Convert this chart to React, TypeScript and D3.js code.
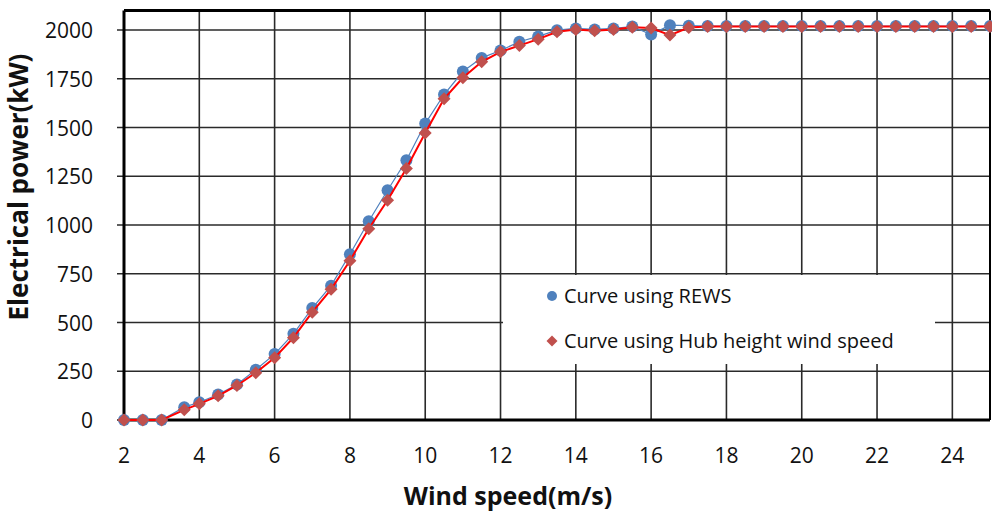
import React from "react";
import * as d3 from "d3";

const windSpeeds = [2, 2.5, 3, 3.6, 4, 4.5, 5, 5.5, 6, 6.5, 7, 7.5, 8, 8.5, 9, 9.5, 10, 10.5, 11, 11.5, 12, 12.5, 13, 13.5, 14, 14.5, 15, 15.5, 16, 16.5, 17, 17.5, 18, 18.5, 19, 19.5, 20, 20.5, 21, 21.5, 22, 22.5, 23, 23.5, 24, 24.5, 25];
const rewsPower = [0, 0, 0, 66, 91, 131, 182, 258, 338, 442, 574, 689, 850, 1019, 1178, 1332, 1520, 1669, 1787, 1857, 1895, 1940, 1967, 1999, 2008, 2003, 2008, 2018, 1977, 2025, 2022, 2020, 2020, 2020, 2020, 2020, 2020, 2020, 2020, 2020, 2020, 2020, 2020, 2020, 2020, 2020, 2020];
const hubPower = [0, 0, 0, 52, 83, 124, 177, 242, 319, 422, 553, 670, 817, 981, 1127, 1290, 1472, 1647, 1755, 1837, 1888, 1920, 1953, 1991, 2003, 1996, 2003, 2014, 2010, 1974, 2013, 2018, 2018, 2018, 2018, 2018, 2018, 2018, 2018, 2018, 2018, 2018, 2018, 2018, 2018, 2018, 2018];
const xTicks = [2, 4, 6, 8, 10, 12, 14, 16, 18, 20, 22, 24];
const yTicks = [0, 250, 500, 750, 1000, 1250, 1500, 1750, 2000];
const seriesNames = ["Curve using REWS", "Curve using Hub height wind speed"];

const W = 992, H = 514;
const L = 124, R = 990, T = 10.5, B = 420;
const FONT = "'Open Sans', sans-serif";

export default function App() {
  const x = d3.scaleLinear().domain([2, 25]).range([L, R]);
  const y = d3.scaleLinear().domain([0, 2100]).range([B, T]);
  const rews = windSpeeds.map((s, i) => [s, rewsPower[i]] as [number, number]);
  const hub = windSpeeds.map((s, i) => [s, hubPower[i]] as [number, number]);
  const line = d3.line<[number, number]>().x(d => x(d[0])).y(d => y(d[1]));
  const diamond = (cx: number, cy: number, r: number) =>
    `M${cx},${cy - r}L${cx + r},${cy}L${cx},${cy + r}L${cx - r},${cy}Z`;

  return (
    <svg width={W} height={H} style={{ position: "absolute", left: 0, top: 0, background: "#fff" }}>
      <rect x={0} y={0} width={W} height={H} fill="#fff" />
      {/* grid */}
      {yTicks.filter(t => t > 0).map(t => (
        <line key={"gy" + t} x1={L - 7} x2={R} y1={y(t)} y2={y(t)} stroke="#2a2a2a" strokeWidth={1.6} />
      ))}
      <line x1={L - 7} x2={L} y1={y(0)} y2={y(0)} stroke="#2a2a2a" strokeWidth={1.6} />
      {xTicks.filter(t => t > 2).map(t => (
        <line key={"gx" + t} x1={x(t)} x2={x(t)} y1={T} y2={B} stroke="#2a2a2a" strokeWidth={1.6} />
      ))}
      {/* frame */}
      <line x1={L} x2={R} y1={T} y2={T} stroke="#000" strokeWidth={3} />
      <line x1={L} x2={L} y1={T} y2={B} stroke="#000" strokeWidth={3} />
      <line x1={L} x2={R} y1={B} y2={B} stroke="#000" strokeWidth={3} />
      <line x1={R} x2={R} y1={T} y2={B} stroke="#000" strokeWidth={2} />
      {/* legend box */}
      <rect x={503} y={275} width={432} height={89} fill="#fff" />
      {/* series */}
      <path d={line(rews) || ""} fill="none" stroke="#4f81bd" strokeWidth={1.2} />
      {rews.map((d, i) => (
        <circle key={"c" + i} cx={x(d[0])} cy={y(d[1])} r={6} fill="#4f81bd" />
      ))}
      <path d={line(hub) || ""} fill="none" stroke="#ff0000" strokeWidth={2} />
      {hub.map((d, i) => (
        <path key={"d" + i} d={diamond(x(d[0]), y(d[1]), 6.5)} fill="#c0504d" />
      ))}
      {/* legend */}
      <circle cx={552} cy={296} r={5} fill="#4f81bd" />
      <text x={564} y={303} fontFamily={FONT} fontSize={20} fill="#111">{seriesNames[0]}</text>
      <path d={diamond(552, 341, 5.5)} fill="#c0504d" />
      <text x={564} y={348} fontFamily={FONT} fontSize={20} fill="#111">{seriesNames[1]}</text>
      {/* y tick labels */}
      {yTicks.map(t => (
        <text key={"ty" + t} x={93} y={y(t) + 8} textAnchor="end" fontFamily={FONT} fontSize={21} fill="#111">{t}</text>
      ))}
      {/* x tick labels */}
      {xTicks.map(t => (
        <text key={"tx" + t} x={x(t)} y={463} textAnchor="middle" fontFamily={FONT} fontSize={21} fill="#111">{t}</text>
      ))}
      {/* titles */}
      <text x={508} y={505} textAnchor="middle" fontFamily={FONT} fontSize={25} fontWeight="bold" fill="#111">Wind speed(m/s)</text>
      <text transform={`translate(28,187) rotate(-90)`} textAnchor="middle" fontFamily={FONT} fontSize={26} fontWeight="bold" fill="#111">Electrical power(kW)</text>
    </svg>
  );
}
